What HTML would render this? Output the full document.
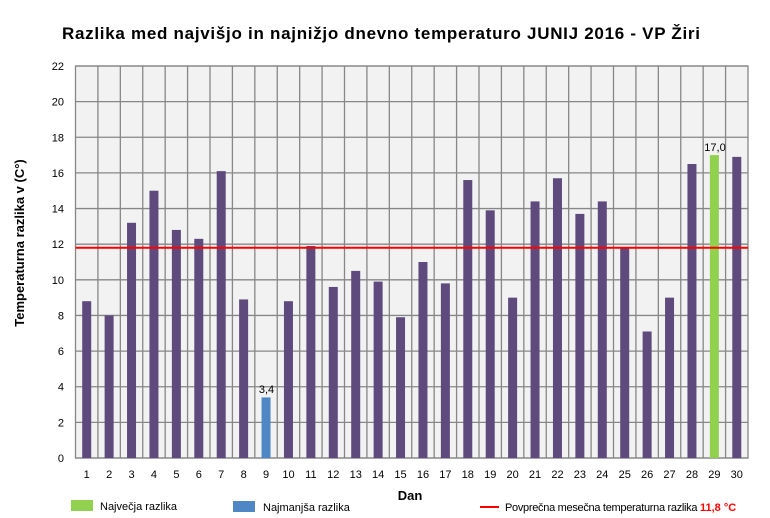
<!DOCTYPE html>
<html><head><meta charset="utf-8"><style>
html,body{margin:0;padding:0;background:#fff;width:770px;height:518px;overflow:hidden}
svg text{font-family:"Liberation Sans","DejaVu Sans",sans-serif}
</style></head><body>
<svg id="s" width="770" height="518" xmlns="http://www.w3.org/2000/svg"></svg>
<script>
var v=[8.8,8.0,13.2,15.0,12.8,12.3,16.1,8.9,3.4,8.8,11.9,9.6,10.5,9.9,7.9,11.0,9.8,15.6,13.9,9.0,14.4,15.7,13.7,14.4,11.8,7.1,9.0,16.5,17.0,16.9];
var L=75.5,R=748,T=66,B=458,cw=(R-L)/30,u=(B-T)/22;
var h='';
h+='<text x="62" y="39" textLength="638" lengthAdjust="spacing" font-size="17" font-weight="bold" fill="#000">Razlika med najvišjo in najnižjo dnevno temperaturo JUNIJ 2016 - VP Žiri</text>';
h+='<rect x="'+L+'" y="'+T+'" width="'+(R-L)+'" height="'+(B-T)+'" fill="#f2f2f2" stroke="#878787" stroke-width="1.3"/>';
for(var i=1;i<30;i++){var x=L+i*cw;h+='<line x1="'+x+'" y1="'+T+'" x2="'+x+'" y2="'+B+'" stroke="#878787" stroke-width="1.3"/>';}
for(var k=0;k<=22;k+=2){var y=B-k*u;h+='<line x1="'+L+'" y1="'+y+'" x2="'+R+'" y2="'+y+'" stroke="#878787" stroke-width="1.3"/>';
h+='<text x="64" y="'+(y+4)+'" text-anchor="end" font-size="11" fill="#000">'+k+'</text>';}
for(var i=0;i<30;i++){var c=L+(i+0.5)*cw,bh=v[i]*u,col='#5e4a7c';if(i==8)col='#4f86c6';if(i==28)col='#92d050';
h+='<rect x="'+(c-4.5)+'" y="'+(B-bh)+'" width="9" height="'+bh+'" fill="'+col+'"/>';
h+='<text x="'+c+'" y="478" text-anchor="middle" font-size="11" fill="#000">'+(i+1)+'</text>';}
h+='<text x="266.5" y="393" text-anchor="middle" font-size="11" fill="#000">3,4</text>';
h+='<text x="715" y="151" text-anchor="middle" font-size="11" fill="#000">17,0</text>';
var ay=B-11.8*u;h+='<line x1="'+L+'" y1="'+ay+'" x2="'+R+'" y2="'+ay+'" stroke="#ff0000" stroke-width="2"/>';
h+='<text x="24" y="243" transform="rotate(-90 24 243)" text-anchor="middle" font-size="13" font-weight="bold" fill="#000">Temperaturna razlika v (C°)</text>';
h+='<text x="410" y="500" text-anchor="middle" font-size="13" font-weight="bold" fill="#000">Dan</text>';
h+='<rect x="71" y="500" width="22" height="11" fill="#92d050"/><text x="100" y="510" font-size="11" fill="#000">Največja razlika</text>';
h+='<rect x="233" y="501" width="22" height="11" fill="#4f86c6"/><text x="263" y="511" font-size="11" fill="#000">Najmanjša razlika</text>';
h+='<line x1="480" y1="507" x2="499" y2="507" stroke="#ff0000" stroke-width="2"/>';
h+='<text x="505" y="511" font-size="11" fill="#000" letter-spacing="-0.3">Povprečna mesečna temperaturna razlika <tspan fill="#ff0000" font-weight="bold" letter-spacing="0">11,8 °C</tspan></text>';
document.getElementById('s').innerHTML=h;
</script>
</body></html>
